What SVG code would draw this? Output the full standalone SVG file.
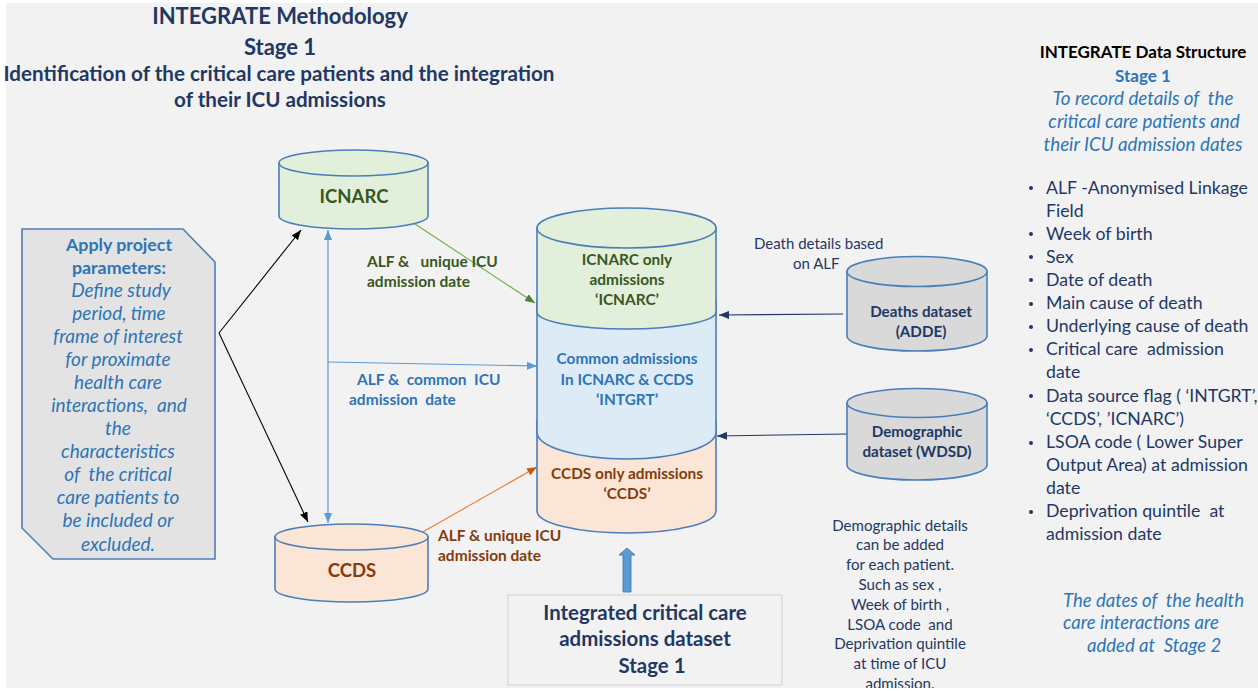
<svg xmlns="http://www.w3.org/2000/svg" width="1258" height="691" viewBox="0 0 1258 691">
  <style>
    text { font-family: Lato, "Open Sans", sans-serif; white-space: pre; }
    .navy { fill: #1f3864; }
    .b { font-weight: bold; }
    .it { font-style: italic; }
    .c { text-anchor: middle; }
    .green { fill: #385723; }
    .brown { fill: #843c0c; }
    .blue { fill: #2e75b6; }
    .cyl { stroke: #4a7ebb; stroke-width: 1.6; }
    .g { fill: #e2efda; }
    .o { fill: #fbe5d6; }
    .bl { fill: #ddebf7; }
    .gr { fill: #d9d9d9; }
  </style>
  <defs>
    <marker id="ah-black" viewBox="0 0 10 8" refX="10" refY="4" markerWidth="10" markerHeight="8" markerUnits="userSpaceOnUse" orient="auto-start-reverse">
      <path d="M0,0 L10,4 L0,8 z" fill="#000"/>
    </marker>
    <marker id="ah-blue" viewBox="0 0 10 8" refX="10" refY="4" markerWidth="10" markerHeight="8" markerUnits="userSpaceOnUse" orient="auto-start-reverse">
      <path d="M0,0 L10,4 L0,8 z" fill="#5b9bd5"/>
    </marker>
    <marker id="ah-green" viewBox="0 0 10 8" refX="10" refY="4" markerWidth="10" markerHeight="8" markerUnits="userSpaceOnUse" orient="auto">
      <path d="M0,0 L10,4 L0,8 z" fill="#548235"/>
    </marker>
    <marker id="ah-orange" viewBox="0 0 10 8" refX="10" refY="4" markerWidth="10" markerHeight="8" markerUnits="userSpaceOnUse" orient="auto">
      <path d="M0,0 L10,4 L0,8 z" fill="#c55a11"/>
    </marker>
    <marker id="ah-navy" viewBox="0 0 10 8" refX="10" refY="4" markerWidth="10" markerHeight="8" markerUnits="userSpaceOnUse" orient="auto">
      <path d="M0,0 L10,4 L0,8 z" fill="#203864"/>
    </marker>
  </defs>

  <!-- page -->
  <rect x="0" y="0" width="1258" height="691" fill="#ffffff"/>
  <rect x="6" y="3" width="1252" height="685" fill="#f2f2f2"/>

  <!-- heading -->
  <g id="title" class="navy b c">
    <text x="280" y="24" font-size="22">INTEGRATE Methodology</text>
    <text x="280" y="55" font-size="22">Stage 1</text>
    <text x="279" y="81" font-size="20.6">Identification of the critical care patients and the integration</text>
    <text x="280" y="107" font-size="20.6">of their ICU admissions</text>
  </g>

  <!-- connectors -->
  <g id="connectors" fill="none">
    <line x1="219" y1="333" x2="301" y2="230" stroke="#000" stroke-width="1.1" marker-end="url(#ah-black)"/>
    <line x1="219" y1="333" x2="308" y2="522" stroke="#000" stroke-width="1.1" marker-end="url(#ah-black)"/>
    <line x1="328" y1="230" x2="328" y2="523" stroke="#5b9bd5" stroke-width="1.2" marker-start="url(#ah-blue)" marker-end="url(#ah-blue)"/>
    <line x1="328" y1="362" x2="537" y2="366" stroke="#5b9bd5" stroke-width="1.2" marker-end="url(#ah-blue)"/>
    <line x1="412" y1="222" x2="535" y2="303" stroke="#70ad47" stroke-width="1.1" marker-end="url(#ah-green)"/>
    <line x1="421" y1="533" x2="537" y2="467" stroke="#ed7d31" stroke-width="1.1" marker-end="url(#ah-orange)"/>
    <line x1="843" y1="314" x2="719" y2="315" stroke="#203864" stroke-width="1.1" marker-end="url(#ah-navy)"/>
    <line x1="847" y1="434" x2="717" y2="436" stroke="#203864" stroke-width="1.1" marker-end="url(#ah-navy)"/>
  </g>

  <!-- connector labels -->
  <g id="labels" class="b" font-size="15.5">
    <text class="green" x="367" y="267">ALF &amp;   unique ICU</text>
    <text class="green" x="367" y="287">admission date</text>
    <text class="blue" x="357" y="385">ALF &amp;  common  ICU</text>
    <text class="blue" x="349" y="405">admission  date</text>
    <text class="brown" x="438" y="541">ALF &amp; unique ICU</text>
    <text class="brown" x="438" y="561">admission date</text>
  </g>
  <g id="death-note" class="navy" font-size="15">
    <text x="754" y="249">Death details based</text>
    <text x="793" y="269">on ALF</text>
  </g>

  <!-- parameters box -->
  <g id="params">
    <path d="M22,229 L183,229 L215,262 L215,559 L53,559 L22,528 Z" fill="#e3e3e3" stroke="#4f7fb6" stroke-width="1.6"/>
    <g class="c" font-size="17.8">
      <text class="blue b" x="119" y="251">Apply project</text>
      <text class="blue b" x="119" y="274">parameters:</text>
      <g class="blue it" font-size="19">
        <text x="121" y="297">Define study</text>
        <text x="119" y="320">period, time</text>
        <text x="118" y="343">frame of interest</text>
        <text x="118" y="366">for proximate</text>
        <text x="118" y="389">health care</text>
        <text x="119" y="412">interactions,  and</text>
        <text x="118" y="435">the</text>
        <text x="118" y="458">characteristics</text>
        <text x="118" y="481">of  the critical</text>
        <text x="118" y="504">care patients to</text>
        <text x="118" y="527">be included or</text>
        <text x="118" y="551">excluded.</text>
      </g>
    </g>
  </g>

  <!-- ICNARC source -->
  <g id="icnarc">
    <path class="cyl g" d="M279,163 L279,216 A74.5,13 0 0 0 428,216 L428,163 Z"/>
    <ellipse class="cyl g" cx="353.5" cy="163" rx="74.5" ry="13"/>
    <text class="green b c" x="354" y="203" font-size="18.5">ICNARC</text>
  </g>

  <!-- CCDS source -->
  <g id="ccds">
    <path class="cyl o" d="M275,537 L275,589 A76.5,13 0 0 0 428,589 L428,537 Z"/>
    <ellipse class="cyl o" cx="351.5" cy="537" rx="76.5" ry="13"/>
    <text class="brown b c" x="352" y="577" font-size="18.5">CCDS</text>
  </g>

  <!-- integrated store -->
  <g id="integrated">
    <path class="cyl o" d="M537,420 L537,511 A89.5,22 0 0 0 716,511 L716,420 Z"/>
    <path class="cyl bl" d="M537,300 L537,432 A89.5,27 0 0 0 716,432 L716,300 Z"/>
    <path class="cyl g" d="M537,228 L537,312 A89.5,17 0 0 0 716,312 L716,228 Z"/>
    <ellipse class="cyl g" cx="626.5" cy="228" rx="89.5" ry="20"/>
    <g class="b c" font-size="15.4">
      <text class="green" x="627" y="265">ICNARC only</text>
      <text class="green" x="627" y="285">admissions</text>
      <text class="green" x="627" y="305">‘ICNARC’</text>
      <text class="blue" x="627" y="364">Common admissions</text>
      <text class="blue" x="627" y="385">In ICNARC &amp; CCDS</text>
      <text class="blue" x="627" y="405">‘INTGRT’</text>
      <text class="brown" x="627" y="479">CCDS only admissions</text>
      <text class="brown" x="627" y="499">‘CCDS’</text>
    </g>
  </g>

  <!-- deaths dataset -->
  <g id="deaths">
    <path class="cyl gr" d="M847,271.5 L847,336 A70,15 0 0 0 987,336 L987,271.5 Z"/>
    <ellipse class="cyl gr" cx="917" cy="271.5" rx="70" ry="15"/>
    <text class="navy b c" x="921" y="317" font-size="15.2">Deaths dataset</text>
    <text class="navy b c" x="921" y="337" font-size="15.2">(ADDE)</text>
  </g>

  <!-- demographic dataset -->
  <g id="demographic">
    <path class="cyl gr" d="M847,403 L847,465 A70,15 0 0 0 987,465 L987,403 Z"/>
    <ellipse class="cyl gr" cx="917" cy="403" rx="70" ry="14.5"/>
    <text class="navy b c" x="917" y="437" font-size="15.2">Demographic</text>
    <text class="navy b c" x="917" y="457" font-size="15.2">dataset (WDSD)</text>
  </g>

  <!-- output block -->
  <g id="output">
    <path d="M623,592 L623,555 L619,555 L627,548 L635,555 L631,555 L631,592 Z" fill="#5b9bd5" stroke="#41719c" stroke-width="0.8"/>
    <rect x="508" y="595" width="274" height="90" fill="#f2f2f2" stroke="#d6d6d6" stroke-width="1.2"/>
    <g class="navy b c" font-size="20.4">
      <text x="645" y="620">Integrated critical care</text>
      <text x="645" y="646">admissions dataset</text>
      <text x="652" y="673">Stage 1</text>
    </g>
  </g>

  <!-- demographic note -->
  <g id="demo-note" class="navy c" font-size="15.1">
    <text x="900" y="531">Demographic details</text>
    <text x="900" y="550">can be added</text>
    <text x="900" y="570">for each patient.</text>
    <text x="900" y="590">Such as sex ,</text>
    <text x="900" y="610">Week of birth ,</text>
    <text x="900" y="630">LSOA code  and</text>
    <text x="900" y="649">Deprivation quintile</text>
    <text x="900" y="669">at time of ICU</text>
    <text x="900" y="689">admission.</text>
  </g>

  <!-- data structure panel -->
  <g id="structure">
    <text class="b c" x="1143" y="58" font-size="17">INTEGRATE Data Structure</text>
    <text class="blue b c" x="1143" y="82" font-size="17">Stage 1</text>
    <g class="blue it c" font-size="18.8">
      <text x="1143" y="105">To record details of  the</text>
      <text x="1144" y="128">critical care patients and</text>
      <text x="1143" y="151">their ICU admission dates</text>
    </g>
    <g class="navy" font-size="17.7">
      <g fill="#1f3864">
        <circle cx="1031" cy="188" r="2"/>
        <circle cx="1031" cy="234" r="2"/>
        <circle cx="1031" cy="257" r="2"/>
        <circle cx="1031" cy="280" r="2"/>
        <circle cx="1031" cy="304" r="2"/>
        <circle cx="1031" cy="327" r="2"/>
        <circle cx="1031" cy="350" r="2"/>
        <circle cx="1031" cy="396" r="2"/>
        <circle cx="1031" cy="443" r="2"/>
        <circle cx="1031" cy="512" r="2"/>
      </g>
      <text x="1046" y="194">ALF -Anonymised Linkage</text>
      <text x="1046" y="217">Field</text>
      <text x="1046" y="240">Week of birth</text>
      <text x="1046" y="263">Sex</text>
      <text x="1046" y="286">Date of death</text>
      <text x="1046" y="309">Main cause of death</text>
      <text x="1046" y="332">Underlying cause of death</text>
      <text x="1046" y="355">Critical care  admission</text>
      <text x="1046" y="378">date</text>
      <text x="1046" y="402">Data source flag ( ‘INTGRT’,</text>
      <text x="1046" y="425">‘CCDS’, ’ICNARC’)</text>
      <text x="1046" y="448">LSOA code ( Lower Super</text>
      <text x="1046" y="471">Output Area) at admission</text>
      <text x="1046" y="494">date</text>
      <text x="1046" y="517">Deprivation quintile  at</text>
      <text x="1046" y="540">admission date</text>
    </g>
  </g>

  <!-- stage note -->
  <g id="stage-note" class="blue it" font-size="18.5">
    <text x="1063" y="607">The dates of  the health</text>
    <text x="1063" y="629">care interactions are</text>
    <text x="1087" y="652">added at  Stage 2</text>
  </g>

  <!-- lower page margin -->
  <rect x="0" y="688" width="1258" height="3" fill="#ffffff"/>
</svg>
